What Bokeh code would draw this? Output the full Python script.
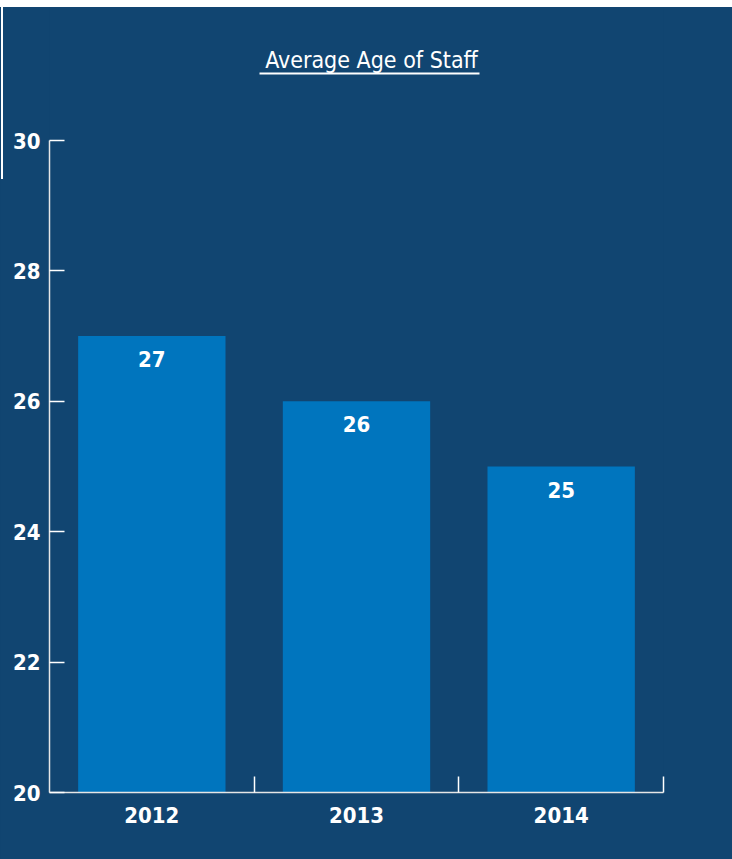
from bokeh.plotting import figure
from bokeh.models import (ColumnDataSource, FixedTicker, Range1d, Label, BoxAnnotation,
                          InlineStyleSheet)
from bokeh.core.properties import value
from bokeh.embed import file_html
from bokeh.resources import INLINE

years = ["2012", "2013", "2014"]
ages = [27, 26, 25]
y_ticks = [20, 22, 24, 26, 28, 30]
title_text = "Average Age of Staff"

BG = "#114571"
BAR = "#0075BE"
FONT = "DejaVu Sans Condensed, Liberation Sans Narrow, sans-serif"

W, H = 732, 859
LEFT, RIGHT, BOTTOM = 49, 69, 67
AXIS_TOP_PX = 140            # pixel row of the value 30
Y0, Y1 = 20, 30
frame_h = H - BOTTOM
px_per_unit = (frame_h - AXIS_TOP_PX) / (Y1 - Y0)
y_end = Y1 + AXIS_TOP_PX / px_per_unit

pos = [i + 0.5 for i in range(len(years))]
src = ColumnDataSource(dict(x=pos, top=ages, label=[str(a) for a in ages]))

p = figure(width=W, height=H, output_backend="svg", toolbar_location=None,
           x_range=Range1d(0, len(years)), y_range=Range1d(Y0, y_end),
           min_border_left=LEFT, min_border_right=RIGHT, min_border_top=0,
           min_border_bottom=BOTTOM)
p.background_fill_color = BG
p.border_fill_color = BG
p.outline_line_color = None
p.grid.visible = False

p.vbar(x="x", top="top", bottom=Y0, width=0.72, source=src,
       fill_color=BAR, line_color=None)
p.text(x="x", y="top", text="label", source=src, text_align="center",
       text_baseline="middle", y_offset=23, text_color="white",
       text_font=value(FONT), text_font_style="bold", text_font_size="22px")

# x axis
xa = p.xaxis[0]
xa.ticker = FixedTicker(ticks=pos, minor_ticks=list(range(1, len(years) + 1)))
xa.major_label_overrides = {p_: y for p_, y in zip(pos, years)}
xa.major_tick_in = 0
xa.major_tick_out = 0
xa.minor_tick_in = 16
xa.minor_tick_out = 0
xa.minor_tick_line_color = "white"
xa.minor_tick_line_width = 1.5
xa.axis_line_color = "#E6E6E6"
xa.axis_line_width = 1.5
xa.major_label_text_color = "white"
xa.major_label_text_font = FONT
xa.major_label_text_font_style = "bold"
xa.major_label_text_font_size = "22px"
xa.major_label_standoff = 14

# y axis
ya = p.yaxis[0]
ya.bounds = (Y0, Y1)
ya.ticker = FixedTicker(ticks=y_ticks)
ya.minor_tick_line_color = None
ya.major_tick_in = 15
ya.major_tick_out = 0
ya.major_tick_line_color = "white"
ya.major_tick_line_width = 1.5
ya.axis_line_color = "#E6E6E6"
ya.axis_line_width = 1.5
ya.major_label_text_color = "white"
ya.major_label_text_font = FONT
ya.major_label_text_font_style = "bold"
ya.major_label_text_font_size = "22px"
ya.major_label_standoff = 9

# title + underline (placed in the upper part of the frame)
def px_to_x(px):
    return (px - LEFT) / ((W - LEFT - RIGHT) / len(years))

def py_to_y(py):
    return Y0 + (frame_h - py) / px_per_unit

p.add_layout(Label(x=px_to_x(371), y=py_to_y(59), text=title_text,
                   text_align="center", text_baseline="alphabetic",
                   text_color="white", text_font=FONT, text_font_size="23px"))
p.add_layout(BoxAnnotation(left=px_to_x(259), right=px_to_x(479),
                           top=py_to_y(72), bottom=py_to_y(74),
                           fill_color="white", fill_alpha=1, line_color=None))

# decoration outside the plot frame: white band on top, corner line at left
p.stylesheets = [InlineStyleSheet(css="""
:host { position: relative; background: #114571; }
:host::before { content: ""; position: absolute; left: 0; top: 0; width: 732px;
  height: 7px; background: #ffffff; z-index: 10; pointer-events: none; }
:host::after { content: ""; position: absolute; left: 1px; top: 0; width: 0px;
  height: 177px; border-right: 2px solid #ffffff; border-bottom: 2px solid #ffffff;
  z-index: 10; pointer-events: none; }
""")]

open("out.html", "w").write(file_html(p, INLINE))
